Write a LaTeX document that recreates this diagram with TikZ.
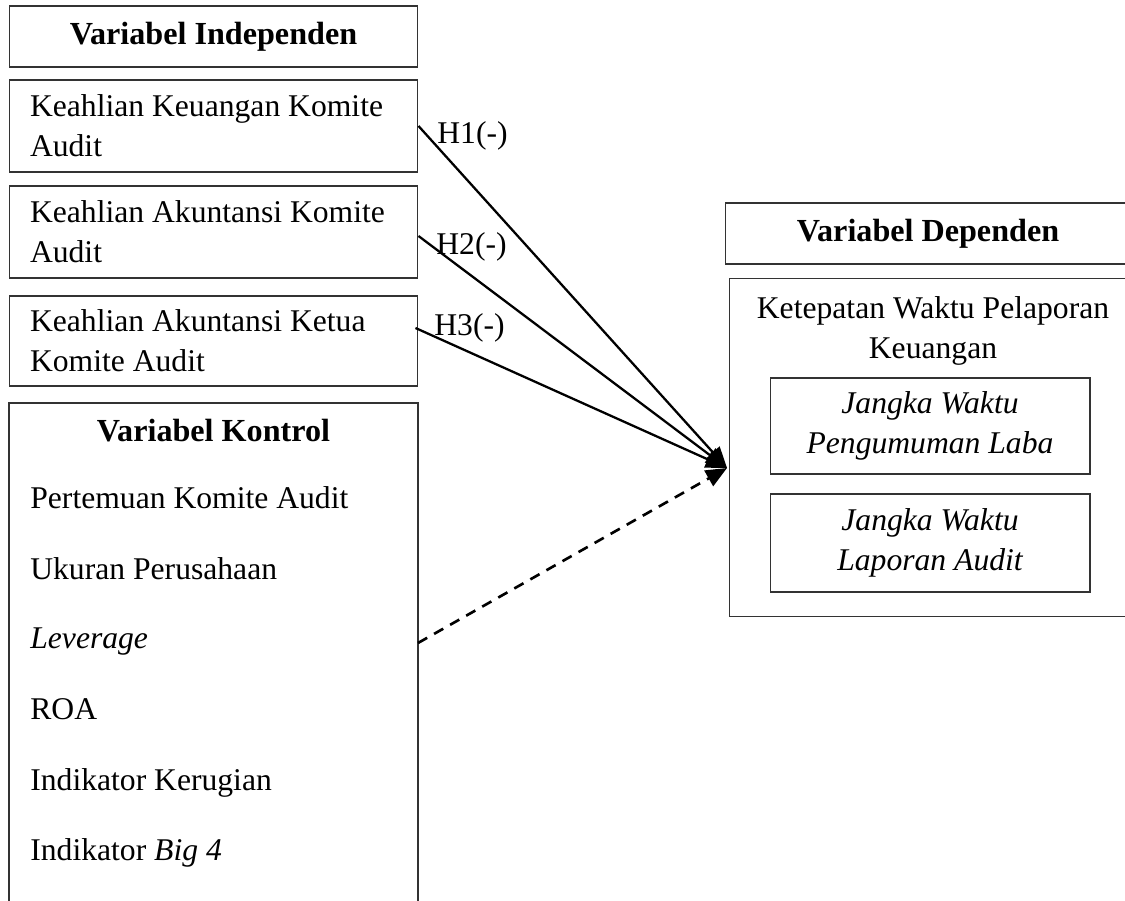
\documentclass[tikz,border=0pt]{standalone}
\usepackage{fontspec}
\setmainfont{Liberation Serif}
\usetikzlibrary{arrows.meta,positioning,calc}

\tikzset{
  frame/.style={draw=black!80,line width=0.6pt},
  headbox/.style={frame,minimum height=1.22cm,font=\fontsize{18.3}{22.8}\selectfont\bfseries},
  box/.style={frame,text width=7.34cm,inner xsep=0.42cm,align=flush left,font=\fontsize{18}{22.8}\selectfont},
  subbox/.style={frame,minimum width=6.4cm,align=center,font=\fontsize{18}{22.8}\selectfont\itshape},
  item/.style={anchor=west,inner sep=0pt,text height=1.5ex,text depth=.25ex,font=\fontsize{18}{22.8}\selectfont},
  hlbl/.style={anchor=west,inner sep=0pt,font=\fontsize{18}{22.8}\selectfont},
  hyp/.style={line width=1.3pt,-{Triangle[length=12pt,width=10pt]}}
}

\begin{document}
\begin{tikzpicture}[x=0.02cm,y=-0.02cm]
  \useasboundingbox (0,0) rectangle (1125,901);
  \clip (0,0) rectangle (1125,901);

  % independent variables
  \node[headbox,minimum width=8.18cm] (indep) at (213.5,36.5) {Variabel Independen};
  \node[box,minimum height=1.84cm] (k1) at (213.5,126) {Keahlian Keuangan Komite\\Audit};
  \node[box,minimum height=1.84cm] (k2) at (213.5,232) {Keahlian Akuntansi Komite\\Audit};
  \node[box,minimum height=1.8cm] (k3) at (213.5,341) {Keahlian Akuntansi Ketua\\Komite Audit};

  % control variables (box runs off the page)
  \draw[frame] (9,920) -- (9,403) -- (418,403) -- (418,920);
  \node[font=\fontsize{18.3}{22.8}\selectfont\bfseries] (ctrl) at (213.5,431) {Variabel Kontrol};
  \node[item] (c1) at (30,503) {Pertemuan Komite Audit};
  \node[item] (c2) at (30,574) {Ukuran Perusahaan};
  \node[item] (c3) at (30,643) {\textit{Leverage}};
  \node[item] (c4) at (30,714) {ROA};
  \node[item] (c5) at (30,785) {Indikator Kerugian};
  \node[item] (c6) at (30,855) {Indikator \textit{Big 4}};

  % dependent variable
  \node[headbox,minimum width=8.1cm] (dephead) at (928,233.5) {Variabel Dependen};
  \node[frame,minimum width=8.1cm,minimum height=6.78cm] (dep) at (932,447.5) {};
  \node[align=center,font=\fontsize{18}{22.8}\selectfont] (deptxt) at (933,331) {Ketepatan Waktu Pelaporan\\Keuangan};
  \node[subbox,minimum height=1.92cm] (d1) at (930,426) {Jangka Waktu\\Pengumuman Laba};
  \node[subbox,minimum height=1.96cm] (d2) at (930,543) {Jangka Waktu\\Laporan Audit};

  \coordinate (tip) at (727,468);
  \coordinate (lev) at (418,643);

  \draw[hyp] (k1.east) -- (tip);
  \draw[hyp] ($(k2.east)+(0,4)$) -- (tip);
  \draw[hyp] ($(k3.east)+(-3,-13)$) -- (tip);
  \draw[hyp,line width=1.5pt,dash pattern=on 6pt off 4.5pt] (lev) -- (tip);

  \node[hlbl] (h1) at (437,136) {H1(-)};
  \node[hlbl] (h2) at (436,247) {H2(-)};
  \node[hlbl] (h3) at (434,328) {H3(-)};
\end{tikzpicture}
\end{document}
